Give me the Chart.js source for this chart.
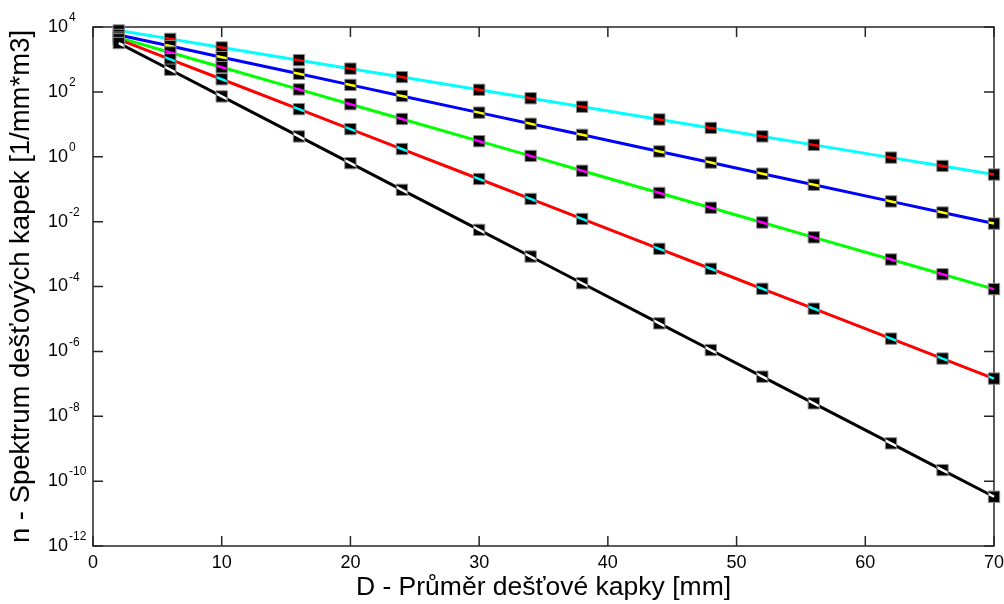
<!DOCTYPE html>
<html>
<head>
<meta charset="utf-8">
<script src="https://cdn.jsdelivr.net/npm/chart.js@4"></script>
<style>
    html, body { margin: 0; padding: 0; background: #fff; }
    #wrap { width: 1004px; height: 604px; }
</style>
</head>
<body>
<div id="wrap"><canvas id="myChart"></canvas></div>
<script>
// prumery kapek [mm]
const diameters = [2, 6, 10, 16, 20, 24, 30, 34, 38, 44, 48, 52, 56, 62, 66, 70];

// hodnoty spektra [1/mm*m3]
const cyanValues = [7800, 4300, 2340, 950, 520, 286, 116, 63.5, 34.8, 14.1, 7.74, 4.24, 2.32, 0.94, 0.52, 0.283];
const blueValues = [5680, 2580, 1175, 361, 164, 74.6, 22.9, 10.4, 4.74, 1.46, 0.662, 0.301, 0.137, 0.042, 0.0191, 0.0087];
const greenValues = [4700, 1640, 575, 119, 41.7, 14.6, 3.02, 1.06, 0.37, 0.0766, 0.0268, 0.00938, 0.00328, 6.8e-4, 2.38e-4, 8.3e-5];
const redValues = [4170, 1010, 245, 29.3, 7.11, 1.73, 0.206, 0.05, 0.0121, 0.00145, 3.52e-4, 8.5e-5, 2.07e-5, 2.47e-6, 6.0e-7, 1.45e-7];
const blackValues = [3200, 482, 72.4, 4.23, 0.635, 0.0955, 0.00557, 8.4e-4, 1.26e-4, 7.3e-6, 1.1e-6, 1.66e-7, 2.5e-8, 1.46e-9, 2.19e-10, 3.3e-11];

const xTicks = [0, 10, 20, 30, 40, 50, 60, 70];
const yTickExps = [-12, -10, -8, -6, -4, -2, 0, 2, 4];

const FONT = '"Liberation Sans", Arial, sans-serif';

const makeSet = (values, color, stripe) => ({
    data: diameters.map((d, i) => ({ x: d, y: values[i] })),
    borderColor: color,
    borderWidth: 3,
    stripeColor: stripe,
    pointStyle: 'rect',
    pointRadius: 8,
    pointBackgroundColor: '#000',
    pointBorderColor: '#8a8a8a',
    pointBorderWidth: 1,
    tension: 0,
    clip: false,
});

// ramecek, ticky dovnitr a popisky osy y s exponentem
const framePlugin = {
    id: 'frame',
    beforeDatasetsDraw(chart) {
        const { ctx, chartArea: a, scales } = chart;
        const x = scales.x;
        const y = scales.y;
        const tl = 10;
        ctx.save();
        ctx.strokeStyle = '#262626';
        ctx.lineWidth = 1.5;
        ctx.strokeRect(a.left, a.top, a.right - a.left, a.bottom - a.top);
        ctx.beginPath();
        xTicks.forEach((v) => {
            const px = x.getPixelForValue(v);
            ctx.moveTo(px, a.bottom);
            ctx.lineTo(px, a.bottom - tl);
            ctx.moveTo(px, a.top);
            ctx.lineTo(px, a.top + tl);
        });
        yTickExps.forEach((e) => {
            const py = y.getPixelForValue(10 ** e);
            ctx.moveTo(a.left, py);
            ctx.lineTo(a.left + tl, py);
            ctx.moveTo(a.right, py);
            ctx.lineTo(a.right - tl, py);
        });
        ctx.stroke();

        ctx.fillStyle = '#000';
        ctx.textAlign = 'left';
        ctx.textBaseline = 'middle';
        yTickExps.forEach((e) => {
            const py = y.getPixelForValue(10 ** e);
            ctx.font = `18px ${FONT}`;
            ctx.fillText('10', 48, py);
            const w = ctx.measureText('10').width;
            ctx.font = `12px ${FONT}`;
            ctx.fillText(String(e), 48 + w + 1, py - 9);
        });
        ctx.restore();
    },
    afterDatasetDraw(chart, args) {
        const ds = chart.data.datasets[args.index];
        const pts = args.meta.data;
        const ctx = chart.ctx;
        const half = 5;
        ctx.save();
        ctx.strokeStyle = ds.stripeColor;
        ctx.lineWidth = 2.5;
        pts.forEach((p, i) => {
            const prev = pts[i - 1];
            const next = pts[i + 1];
            ctx.save();
            ctx.beginPath();
            ctx.rect(p.x - half, p.y - half, half * 2, half * 2);
            ctx.clip();
            ctx.beginPath();
            if (prev) {
                ctx.moveTo(prev.x, prev.y);
                ctx.lineTo(p.x, p.y);
            } else {
                ctx.moveTo(p.x, p.y);
            }
            if (next) ctx.lineTo(next.x, next.y);
            ctx.stroke();
            ctx.restore();
        });
        ctx.restore();
    },
};

const ctx = document.getElementById('myChart');
new Chart(ctx, {
    type: 'line',
    data: {
        datasets: [
            makeSet(blackValues, '#000000', '#ffffff'),
            makeSet(redValues, '#ff0000', '#00ffff'),
            makeSet(greenValues, '#00ff00', '#ff00ff'),
            makeSet(blueValues, '#0000ff', '#ffff00'),
            makeSet(cyanValues, '#00ffff', '#ff0000'),
        ],
    },
    options: {
        responsive: true,
        maintainAspectRatio: false,
        animation: false,
        events: [],
        layout: { padding: { top: 27, right: 10, bottom: 0, left: 0 } },
        plugins: {
            legend: { display: false },
            tooltip: { enabled: false },
        },
        scales: {
            x: {
                type: 'linear',
                min: 0,
                max: 70,
                afterBuildTicks: (s) => { s.ticks = xTicks.map((v) => ({ value: v })); },
                afterFit: (s) => {
                    s.height = 58;
                    s.paddingRight = 0;
                },
                grid: { display: false },
                border: { display: false },
                ticks: {
                    color: '#000',
                    padding: -2,
                    maxRotation: 0,
                    font: { family: FONT, size: 18 },
                },
                title: {
                    display: true,
                    text: 'D - Průměr dešťové kapky [mm]',
                    color: '#000',
                    padding: 0,
                    font: { family: FONT, size: 26.5 },
                },
            },
            y: {
                type: 'logarithmic',
                min: 1e-12,
                max: 1e4,
                afterBuildTicks: (s) => { s.ticks = yTickExps.map((e) => ({ value: 10 ** e })); },
                afterFit: (s) => { s.width = 93; },
                grid: { display: false },
                border: { display: false },
                ticks: { display: false },
                title: {
                    display: true,
                    text: 'n - Spektrum dešťových kapek [1/mm*m3]',
                    color: '#000',
                    padding: { top: 5, bottom: 0 },
                    font: { family: FONT, size: 27.5 },
                },
            },
        },
    },
    plugins: [framePlugin],
});
</script>
</body>
</html>
